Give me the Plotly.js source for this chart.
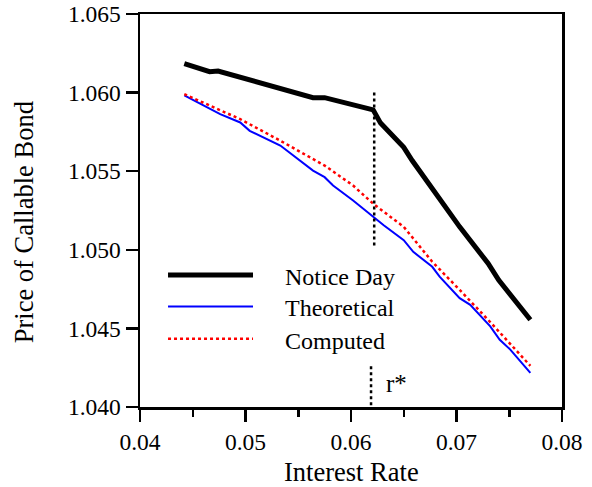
<!DOCTYPE html>
<html>
<head>
<meta charset="utf-8">
<script src="https://cdn.plot.ly/plotly-3.0.1.min.js"></script>
<style>html,body{margin:0;padding:0;background:#fff;}#chart{width:592px;height:487px;}</style>
</head>
<body>
<div id="chart"></div>
<script>
// Notice Day series
const noticeX = [0.0442, 0.0466, 0.0474, 0.0511, 0.0564, 0.0575, 0.0621, 0.0628, 0.0640, 0.0650, 0.0658, 0.0675, 0.0686, 0.0695, 0.0703, 0.0730, 0.0740, 0.0770];
const noticeY = [1.06184, 1.06133, 1.06137, 1.06068, 1.05968, 1.05968, 1.05890, 1.05806, 1.05726, 1.05652, 1.05568, 1.05409, 1.05304, 1.05230, 1.05146, 1.04913, 1.04808, 1.04555];
// Theoretical series
const theoX = [0.0442, 0.0476, 0.0495, 0.0504, 0.0533, 0.0564, 0.0575, 0.0583, 0.0602, 0.0621, 0.0631, 0.0650, 0.0659, 0.0677, 0.0684, 0.0703, 0.0713, 0.0732, 0.0741, 0.0751, 0.0770];
const theoY = [1.05983, 1.05863, 1.05810, 1.05757, 1.05663, 1.05504, 1.05462, 1.05409, 1.05314, 1.05209, 1.05156, 1.05061, 1.04987, 1.04892, 1.04829, 1.04692, 1.04650, 1.04513, 1.04428, 1.04365, 1.04217];
// Computed series
const compX = [0.0442, 0.0466, 0.0495, 0.0533, 0.0575, 0.0602, 0.0621, 0.0650, 0.0677, 0.0703, 0.0732, 0.0770];
const compY = [1.05990, 1.05916, 1.05831, 1.05694, 1.05536, 1.05409, 1.05293, 1.05146, 1.04924, 1.04745, 1.04540, 1.04262];
// r* markers
const rStarUpperX = [0.0622, 0.0622];
const rStarUpperY = [1.0600, 1.0501];
const rStarLowerX = [0.0619, 0.0619];
const rStarLowerY = [1.0426, 1.0400];
const rStarLabel = {x: 0.0643, y: 1.0415, text: 'r*'};
// Series names
const seriesNames = ['Notice Day', 'Theoretical', 'Computed'];
const xTicks = [0.04, 0.05, 0.06, 0.07, 0.08];
const xTickText = ['0.04', '0.05', '0.06', '0.07', '0.08'];
const yTicks = [1.040, 1.045, 1.050, 1.055, 1.060, 1.065];
const yTickText = ['1.040', '1.045', '1.050', '1.055', '1.060', '1.065'];

const FONT = '"Liberation Serif", "Times New Roman", serif';
const styles = [
  {color: '#000000', width: 5, dash: 'solid'},
  {color: '#0000ff', width: 2, dash: 'solid'},
  {color: '#ff0000', width: 2.5, dash: 'dot'}
];

const traces = [
  {x: noticeX, y: noticeY, name: seriesNames[0], mode: 'lines', line: styles[0]},
  {x: theoX, y: theoY, name: seriesNames[1], mode: 'lines', line: styles[1]},
  {x: compX, y: compY, name: seriesNames[2], mode: 'lines', line: styles[2]},
  {x: rStarUpperX, y: rStarUpperY, mode: 'lines', line: {color: '#000', width: 2.5, dash: 'dot'}, hoverinfo: 'skip'},
  {x: rStarLowerX, y: rStarLowerY, mode: 'lines', line: {color: '#000', width: 2.5, dash: 'dot'}, hoverinfo: 'skip'}
];

// Custom legend (paper coordinates)
const legRows = [0.336, 0.2557, 0.1739];
const shapes = [];
const annotations = [];
seriesNames.forEach((n, i) => {
  shapes.push({type: 'line', xref: 'paper', yref: 'paper', x0: 0.0664, x1: 0.2678, y0: legRows[i], y1: legRows[i], line: styles[i]});
  annotations.push({xref: 'paper', yref: 'paper', x: 0.3389, y: legRows[i] - 0.005, xanchor: 'left', yanchor: 'middle', text: n, showarrow: false, font: {family: FONT, size: 24, color: '#000'}});
});
annotations.push({x: rStarLabel.x, y: rStarLabel.y, text: rStarLabel.text, showarrow: false, xanchor: 'center', yanchor: 'middle', font: {family: FONT, size: 25, color: '#000'}});
annotations.push({xref: 'paper', yref: 'paper', x: 0.5, y: -0.165, xanchor: 'center', yanchor: 'middle', text: 'Interest Rate', showarrow: false, font: {family: FONT, size: 26.5, color: '#000'}});
annotations.push({xref: 'paper', yref: 'paper', x: -0.275, y: 0.47, xanchor: 'center', yanchor: 'middle', textangle: -90, text: 'Price of Callable Bond', showarrow: false, font: {family: FONT, size: 26.5, color: '#000'}});

const layout = {
  width: 592, height: 487,
  margin: {l: 140, r: 30, t: 14, b: 80},
  paper_bgcolor: '#fff', plot_bgcolor: '#fff',
  showlegend: false,
  font: {family: FONT, size: 23.5, color: '#000'},
  xaxis: {
    range: [0.04, 0.08], tickvals: xTicks, ticktext: xTickText,
    showgrid: false, zeroline: false, showline: true, mirror: true, linecolor: '#000', linewidth: 2.5,
    ticks: 'outside', ticklen: 12, tickwidth: 2.5, tickcolor: '#000', ticklabeloverflow: 'allow',
    minor: {dtick: 0.005, tick0: 0.04, ticks: 'outside', ticklen: 7, tickwidth: 2.5, tickcolor: '#000', showgrid: false},
    tickfont: {family: FONT, size: 23.5, color: '#000'}
  },
  yaxis: {
    range: [1.0399999, 1.0650001], tickvals: yTicks, ticktext: yTickText,
    showgrid: false, zeroline: false, showline: true, mirror: true, linecolor: '#000', linewidth: 2.5,
    ticks: 'outside', ticklen: 12, tickwidth: 2.5, tickcolor: '#000', ticklabeloverflow: 'allow',
    tickfont: {family: FONT, size: 23.5, color: '#000'}
  },
  shapes: shapes,
  annotations: annotations
};

Plotly.newPlot('chart', traces, layout, {displayModeBar: false, staticPlot: true});
</script>
</body>
</html>
